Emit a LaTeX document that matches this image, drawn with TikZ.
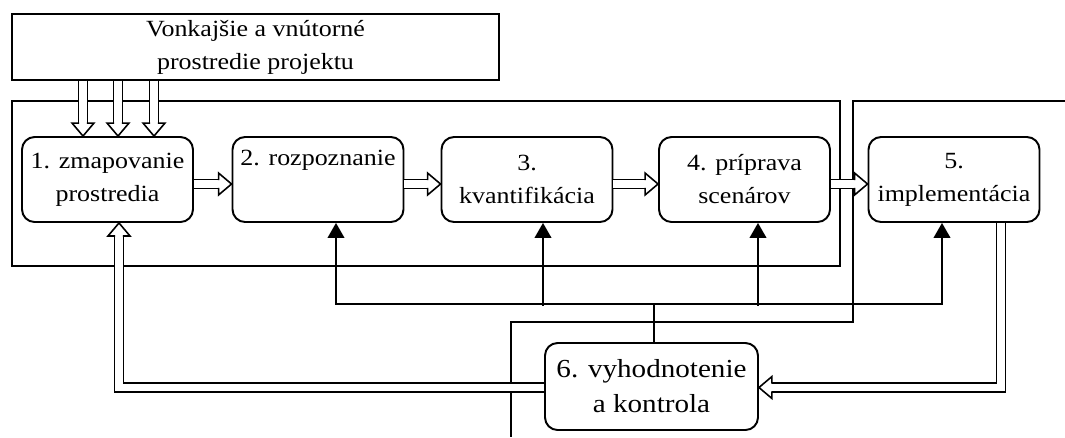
\documentclass[tikz,border=0pt]{standalone}
\usepackage{fontspec}
\setmainfont{Liberation Serif}[FakeStretch=1.12]
\usetikzlibrary{arrows.meta,calc}
\tikzset{
  box/.style={draw,line width=1.1pt,rounded corners=0.25cm,minimum width=3.42cm,minimum height=1.7cm,
    align=center,inner sep=0pt,font=\fontsize{13.2}{18.8}\selectfont},
  frame/.style={line width=0.7pt},
  shaft/.style={double,double distance=4.4pt,line width=0.9pt},
  feed/.style={line width=0.9pt,-{Triangle[length=8.5pt,width=9.5pt]}},
  pics/headopen/.style={code={
    \draw[line width=0.9pt,line join=miter] (-7.4pt,2.2pt) -- (-7.4pt,6.25pt) -- (0,0) -- (-7.4pt,-6.25pt) -- (-7.4pt,-2.2pt);}}
}
\begin{document}
\begin{tikzpicture}[x=0.02cm,y=-0.02cm]
\useasboundingbox (0,0) rectangle (1065,437);
\node[draw,frame,minimum width=9.74cm,minimum height=1.32cm,align=center,inner sep=0pt,
  font=\fontsize{13.2}{18.8}\selectfont] (env) at (255.5,47) {Vonkajšie a vnútorné\\prostredie projektu};
\draw[frame] (12,101) rectangle (840,266);
\draw[frame] (1065,101) -- (853,101) -- (853,322) -- (511,322) -- (511,437);

\node[box] (z1) at (107.5,179.5) {1. zmapovanie\\prostredia};
\node[box] (z2) at (318,179.5) {2. rozpoznanie\\\strut};
\node[box] (z3) at (527,179.5) {3.\\kvantifikácia};
\node[box] (z4) at (744.5,179.5) {4. príprava\\scenárov};
\node[box] (z5) at (954,179.5) {5.\\implementácia};
\node[box,minimum width=4.26cm,minimum height=1.74cm,font=\fontsize{14.8}{20}\selectfont] (z6) at (651.5,386.5) {6. vyhodnotenie\\a kontrola};

\foreach \a/\b in {z1/z2,z2/z3,z3/z4,z4/z5}{
  \draw[shaft] ($(\a.east)+(0,4.5)$) -- ($(\b.west)+(-13,4.5)$);
  \pic at ($(\b.west)+(0,4.5)$) {headopen};
}
\foreach \dx in {-24.5,10.5,46.5}{
  \draw[shaft] ($(z1.north |- env.south)+(\dx,0)$) -- ($(z1.north)+(\dx,-13)$);
  \pic[rotate=-90] at ($(z1.north)+(\dx,0)$) {headopen};
}
\draw[shaft] ($(z6.west)+(0,1)$) -| ($(z1.south)+(11.5,13)$);
\pic[rotate=90] at ($(z1.south)+(11.5,0)$) {headopen};
\draw[shaft] ($(z5.south)+(47,0)$) |- ($(z6.east)+(13,1)$);
\pic[rotate=180] at ($(z6.east)+(0,1)$) {headopen};

\coordinate (hub) at ($(z6.north)+(2.5,-38)$);
\draw[line width=0.9pt] ($(z6.north)+(2.5,0)$) -- (hub);
\draw[feed] (hub) -| ($(z2.south)+(18,0)$);
\draw[feed] (hub) -| ($(z5.south)+(-12,0)$);
\draw[feed] ($(z3.south)+(16,83)$) -- ($(z3.south)+(16,0)$);
\draw[feed] ($(z4.south)+(13.5,83)$) -- ($(z4.south)+(13.5,0)$);
\end{tikzpicture}
\end{document}
